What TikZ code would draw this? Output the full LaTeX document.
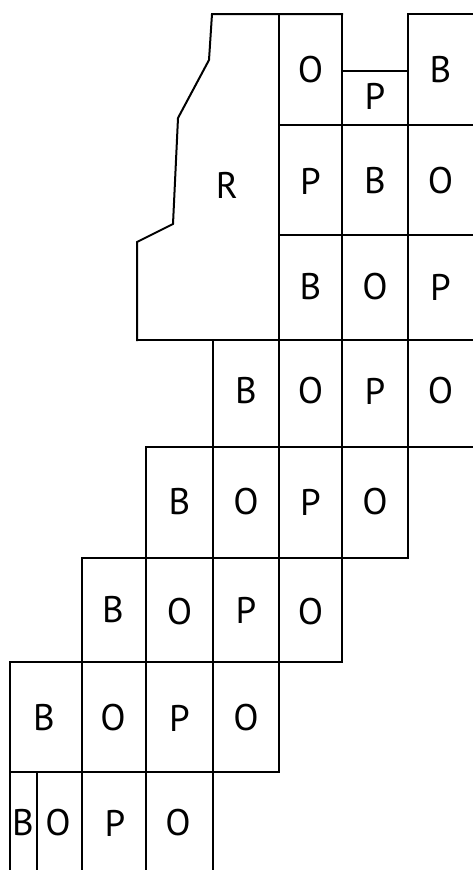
\documentclass[tikz,border=0pt]{standalone}
\usepackage{fontspec}
\setmainfont{PT Sans}
\begin{document}
\begin{tikzpicture}[x=1pt,y=-1pt,
  grid/.style={line width=2pt,line cap=rect,line join=miter},
  lab/.style={font=\fontsize{37}{44}\selectfont,inner sep=0pt,anchor=center}]
\useasboundingbox (0,0) rectangle (473,870);
% R region outline and top
\draw[grid] (137,340) -- (137,242) -- (173,224) -- (178,118) -- (209,60) -- (212,14) -- (342,14);
\draw[grid] (408,14) -- (473,14);
\draw[grid] (342,71) -- (408,71);
\draw[grid] (279,125) -- (473,125);
\draw[grid] (279,235) -- (473,235);
\draw[grid] (137,340) -- (473,340);
\draw[grid] (146,447) -- (473,447);
\draw[grid] (82,558) -- (408,558);
\draw[grid] (10,662) -- (342,662);
\draw[grid] (10,772) -- (279,772);
% verticals
\draw[grid] (279,14) -- (279,772);
\draw[grid] (342,14) -- (342,662);
\draw[grid] (408,14) -- (408,558);
\draw[grid] (213,340) -- (213,870);
\draw[grid] (146,447) -- (146,870);
\draw[grid] (82,558) -- (82,870);
\draw[grid] (10,662) -- (10,870);
\draw[grid] (37,772) -- (37,870);
% labels
\node[lab] (r) at (227,185) {R};
\node[lab] (a1) at (310.5,70) {O};
\node[lab] (a2) at (375,96) {P};
\node[lab] (a3) at (440.5,70) {B};
\node[lab] (b1) at (310.5,181) {P};
\node[lab] (b2) at (375,181) {B};
\node[lab] (b3) at (440.5,181) {O};
\node[lab] (c1) at (310.5,287) {B};
\node[lab] (c2) at (375,287) {O};
\node[lab] (c3) at (440.5,287) {P};
\node[lab] (d1) at (246,391) {B};
\node[lab] (d2) at (310.5,391) {O};
\node[lab] (d3) at (375,391) {P};
\node[lab] (d4) at (440.5,391) {O};
\node[lab] (e1) at (179.5,502) {B};
\node[lab] (e2) at (246,502) {O};
\node[lab] (e3) at (310.5,502) {P};
\node[lab] (e4) at (375,502) {O};
\node[lab] (f1) at (113,610) {B};
\node[lab] (f2) at (179.5,612) {O};
\node[lab] (f3) at (246,610) {P};
\node[lab] (f4) at (310.5,612) {O};
\node[lab] (g1) at (44,718) {B};
\node[lab] (g2) at (113,718) {O};
\node[lab] (g3) at (179.5,718) {P};
\node[lab] (g4) at (246,718) {O};
\node[lab] (h1) at (23,823) {B};
\node[lab] (h2) at (58,823) {O};
\node[lab] (h3) at (115,823) {P};
\node[lab] (h4) at (178,823) {O};
\end{tikzpicture}
\end{document}
